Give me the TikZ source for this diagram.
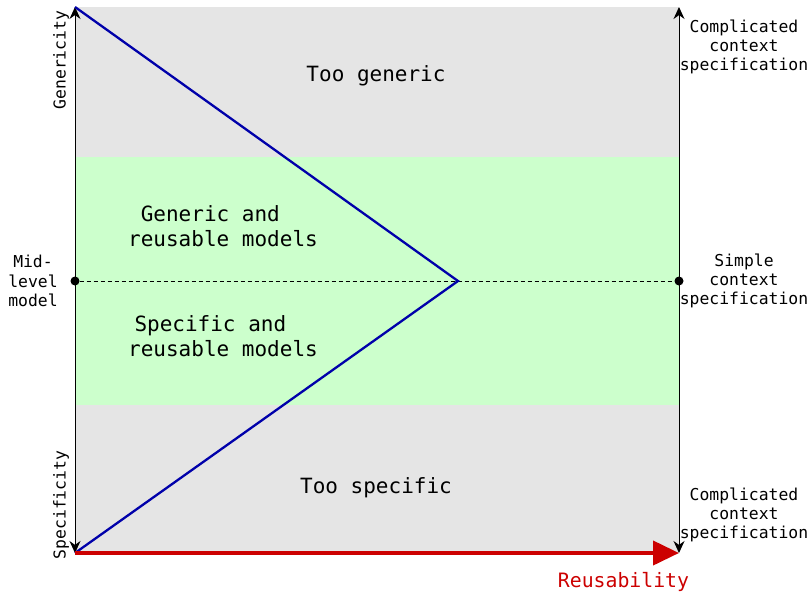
\documentclass[tikz,border=0pt]{standalone}
\usepackage{fontspec}
\setmainfont{DejaVu Sans Mono}
\usetikzlibrary{arrows.meta}
\definecolor{bggray}{RGB}{229,229,229}
\definecolor{bggreen}{RGB}{204,255,204}
\definecolor{vblue}{RGB}{0,0,170}
\definecolor{rred}{RGB}{204,0,0}
\tikzset{
  big/.style={font=\fontsize{21}{25}\selectfont, align=center, inner sep=0pt},
  small/.style={font=\fontsize{16.4}{19.2}\selectfont, align=center, inner sep=0pt},
  axis/.style={draw=black, line width=1pt, -{Stealth[length=12pt,width=11pt]}},
  dot/.style={circle, fill=black, inner sep=0pt, minimum size=9pt},
}
\begin{document}
\begin{tikzpicture}[x=1pt,y=-1pt]
\useasboundingbox (0,0) rectangle (810,595);
\fill[bggray] (75,7) rectangle (679,553);
\fill[bggreen] (75,157) rectangle (679,405);
\coordinate (tl) at (75,7);
\coordinate (bl) at (75,553);
\coordinate (tr) at (679,7);
\coordinate (br) at (679,553);
\coordinate (tip) at (458,281);
\node[dot] (ml) at (75,281) {};
\node[dot] (mr) at (679,281) {};
\draw[line width=0.8pt, dash pattern=on 4pt off 3pt] (ml) -- (mr);
\draw[axis] (ml.center) -- (tl);
\draw[axis] (ml.center) -- (bl);
\draw[axis] (mr.center) -- (tr);
\draw[axis] (mr.center) -- (br);
\draw[vblue, line width=2.3pt, line join=miter] (tl) -- (tip) -- (bl);
\draw[rred, line width=4pt, -{Triangle[length=26pt,width=24pt]}] (bl) -- (br);
\node[big] (tg) at (376,76) {Too generic};
\node[big] (gr) at (223,226) {Generic and\hphantom{xx}\\reusable models};
\node[big] (sr) at (223,336) {Specific and\hphantom{xx}\\reusable models};
\node[big] (ts) at (376,488) {Too specific};
\node[big, font=\fontsize{19.8}{24}\selectfont, text=rred] (re) at (623.5,582) {Reusability};
\node[small] (mid) at (33,281) {Mid-\\level\\model};
\node[small, rotate=90] (gen) at (61,60) {Genericity};
\node[small, rotate=90] (spe) at (61,505) {Specificity};
\node[small] (c1) at (744,47) {Complicated\\context\\specification};
\node[small] (sc) at (744,281) {Simple\\context\\specification};
\node[small] (c2) at (744,515) {Complicated\\context\\specification};
\end{tikzpicture}
\end{document}
